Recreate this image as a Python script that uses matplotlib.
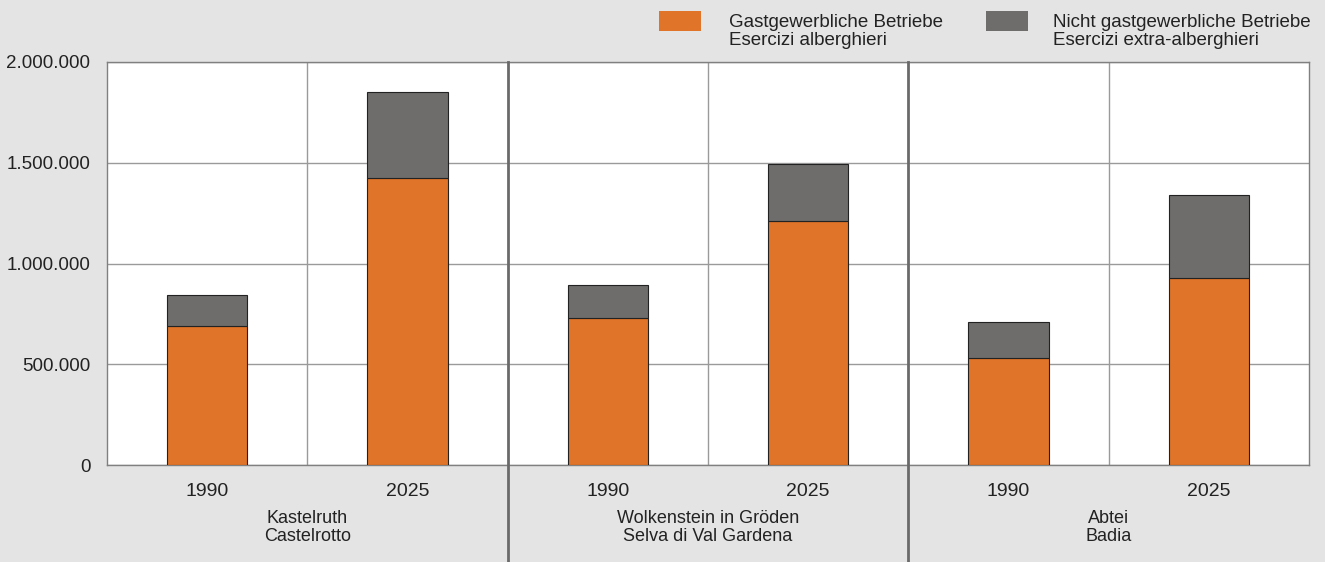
import matplotlib.pyplot as plt
from matplotlib.patches import Rectangle
from matplotlib.ticker import FuncFormatter

plt.rcParams['font.family'] = ['Liberation Sans', 'DejaVu Sans']

# data
groups = [('Kastelruth', 'Castelrotto'),
          ('Wolkenstein in Gröden', 'Selva di Val Gardena'),
          ('Abtei', 'Badia')]
years = ['1990', '2025']
hotel = [690000, 1424000, 730000, 1211000, 531000, 928000]
non_hotel = [154000, 427000, 163000, 283000, 179000, 412000]
series_labels = [('Gastgewerbliche Betriebe', 'Esercizi alberghieri'),
                 ('Nicht gastgewerbliche Betriebe', 'Esercizi extra-alberghieri')]

orange = '#e07428'
grey = '#6f6d6b'
bg = '#e4e4e4'
W, H = 1325, 562
ax_top, ax_bottom = 62, 465  # pixel rows of the plot frame

fig = plt.figure(figsize=(W/100, H/100), dpi=100, facecolor=bg)
ax = fig.add_axes([107/W, 1 - ax_bottom/H, (1309-107)/W, (ax_bottom-ax_top)/H])
ax.set_facecolor('white')

x = list(range(len(hotel)))
ax.bar(x, hotel, width=0.4, color=orange, edgecolor='#222222', linewidth=0.8, zorder=3)
ax.bar(x, non_hotel, width=0.4, bottom=hotel, color=grey, edgecolor='#222222', linewidth=0.8, zorder=3)

ax.set_xlim(-0.5, len(hotel) - 0.5)
ax.set_ylim(0, 2000000)
ax.set_yticks([0, 500000, 1000000, 1500000, 2000000])
ax.yaxis.set_major_formatter(FuncFormatter(lambda v, p: f'{int(v):,}'.replace(',', '.')))
ax.set_xticks(x)
ax.set_xticklabels(years * len(groups))
ax.tick_params(length=0, colors='#222222')
ax.tick_params(axis='y', labelsize=13.5, pad=12)
ax.tick_params(axis='x', labelsize=14, pad=13)

ax.grid(axis='y', color='#9a9a9a', linewidth=1, zorder=0)
# thin lines between years, heavy ones between towns running to the bottom
span = ax_bottom - ax_top
for b in range(len(hotel) - 1):
    xb = b + 0.5
    if b % 2 == 0:
        ax.axvline(xb, color='#9a9a9a', linewidth=1, zorder=1)
    else:
        ax.plot([xb, xb], [1, -(H - ax_bottom)/span], transform=ax.get_xaxis_transform(),
                color='#6a6a6a', linewidth=2, clip_on=False, zorder=4)
for s in ax.spines.values():
    s.set_color('#808080')
    s.set_linewidth(1)

# town names (German / Italian) under each pair of bars
for g, (l1, l2) in enumerate(groups):
    for line, yb in ((l1, 523), (l2, 541)):
        ax.text(2*g + 0.5, -(yb - ax_bottom)/span, line, transform=ax.get_xaxis_transform(),
                ha='center', va='baseline', fontsize=13, color='#222222')

# legend drawn by hand to match the reference placement
for (l1, l2), col, px, tx in zip(series_labels, [orange, grey], [659, 986], [729, 1053]):
    fig.patches.append(Rectangle((px/W, 1 - 31/H), 42/W, 20/H, transform=fig.transFigure,
                                 facecolor=col, edgecolor='none'))
    fig.text(tx/W, 1 - 27/H, l1, fontsize=13.5, color='#222222', va='baseline')
    fig.text(tx/W, 1 - 45/H, l2, fontsize=13.5, color='#222222', va='baseline')

fig.savefig('out.png', dpi=100, facecolor=bg)
